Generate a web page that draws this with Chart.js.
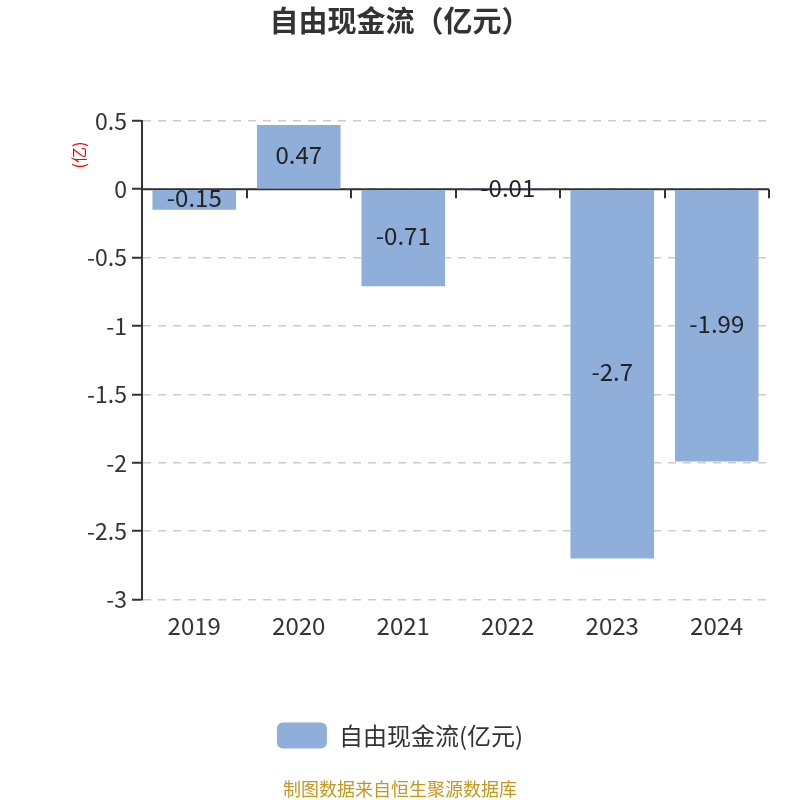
<!DOCTYPE html>
<html>
<head>
<meta charset="utf-8">
<script src="https://cdn.jsdelivr.net/npm/chart.js@4.4.1/dist/chart.umd.min.js"></script>
<style>
    html, body { margin: 0; padding: 0; background: #fff; }
    #wrap { width: 800px; height: 800px; }
</style>
</head>
<body>
<div id="wrap"><canvas id="fcf-chart"></canvas></div>
<script>
const years = ['2019', '2020', '2021', '2022', '2023', '2024'];
const freeCashFlow = [-0.15, 0.47, -0.71, -0.01, -2.7, -1.99];
const seriesName = '自由现金流(亿元)';
const yMin = -3;
const yMax = 0.5;
const yStep = 0.5;

const FONT = '"Noto Sans CJK SC", "Noto Sans", sans-serif';

// zero axis line with tick marks at category boundaries (drawn under the bars)
const zeroAxis = {
    id: 'zeroAxis',
    beforeDatasetsDraw(chart) {
        const { ctx, chartArea, scales } = chart;
        const y0 = scales.y.getPixelForValue(0);
        const half = (scales.x.getPixelForValue(1) - scales.x.getPixelForValue(0)) / 2;
        ctx.save();
        ctx.strokeStyle = '#333';
        ctx.lineWidth = 2;
        ctx.beginPath();
        ctx.moveTo(chartArea.left, y0);
        ctx.lineTo(chartArea.right, y0);
        years.forEach((_, i) => {
            const x = Math.round(scales.x.getPixelForValue(i) + half);
            ctx.moveTo(x, y0);
            ctx.lineTo(x, y0 + 9);
        });
        ctx.stroke();
        ctx.restore();
    },
    afterDatasetsDraw(chart) {
        const { ctx } = chart;
        const meta = chart.getDatasetMeta(0);
        ctx.save();
        ctx.fillStyle = '#222';
        ctx.font = '24px ' + FONT;
        ctx.textAlign = 'center';
        ctx.textBaseline = 'middle';
        meta.data.forEach((bar, i) => {
            const yc = (bar.y + bar.base) / 2 - 2;
            ctx.fillText(String(freeCashFlow[i]), bar.x, yc);
        });
        ctx.restore();
    },
    afterDraw(chart) {
        // small red unit label next to the y axis
        const { ctx } = chart;
        ctx.save();
        ctx.translate(79, 155);
        ctx.rotate(-Math.PI / 2);
        ctx.fillStyle = '#FF0000';
        ctx.font = '16px ' + FONT;
        ctx.textAlign = 'center';
        ctx.textBaseline = 'middle';
        ctx.fillText('(亿)', 0, 0);
        ctx.restore();
    }
};

const ctx = document.getElementById('fcf-chart').getContext('2d');
new Chart(ctx, {
    type: 'bar',
    data: {
        labels: years,
        datasets: [{
            label: seriesName,
            data: freeCashFlow,
            backgroundColor: '#8FAEDA',
            categoryPercentage: 0.8,
            barPercentage: 1.0,
        }],
    },
    options: {
        responsive: true,
        maintainAspectRatio: false,
        animation: false,
        layout: {
            padding: { left: 31, right: 31, top: 0, bottom: 0 },
        },
        plugins: {
            title: {
                display: true,
                text: '自由现金流（亿元）',
                color: '#333',
                font: { family: FONT, size: 29, weight: 'bold' },
                padding: { top: 4, bottom: 82 },
            },
            subtitle: {
                display: true,
                position: 'bottom',
                text: '制图数据来自恒生聚源数据库',
                color: '#C8961E',
                font: { family: FONT, size: 18 },
                padding: { top: 20, bottom: 0 },
            },
            legend: {
                display: true,
                position: 'bottom',
                labels: {
                    color: '#333',
                    font: { family: FONT, size: 24 },
                    boxWidth: 50,
                    boxHeight: 26,
                    useBorderRadius: true,
                    borderRadius: 6,
                    padding: 70,
                },
            },
            tooltip: { enabled: false },
        },
        scales: {
            x: {
                offset: true,
                grid: { display: false, drawTicks: false },
                border: { display: false },
                ticks: {
                    color: '#333',
                    font: { family: FONT, size: 24 },
                    padding: 12,
                },
            },
            y: {
                min: yMin,
                max: yMax,
                afterFit: scale => { scale.width = 111; },
                grid: {
                    color: '#ccc',
                    lineWidth: 1.5,
                    drawTicks: true,
                    tickLength: 10,
                    tickColor: '#333',
                    tickWidth: 2,
                },
                border: { display: true, color: '#333', width: 2, dash: [8, 7] },
                ticks: {
                    stepSize: yStep,
                    color: '#333',
                    font: { family: FONT, size: 23 },
                    padding: 5,
                    callback: v => String(Math.round(v * 10) / 10),
                },
            },
        },
    },
    plugins: [zeroAxis],
});
</script>
</body>
</html>
